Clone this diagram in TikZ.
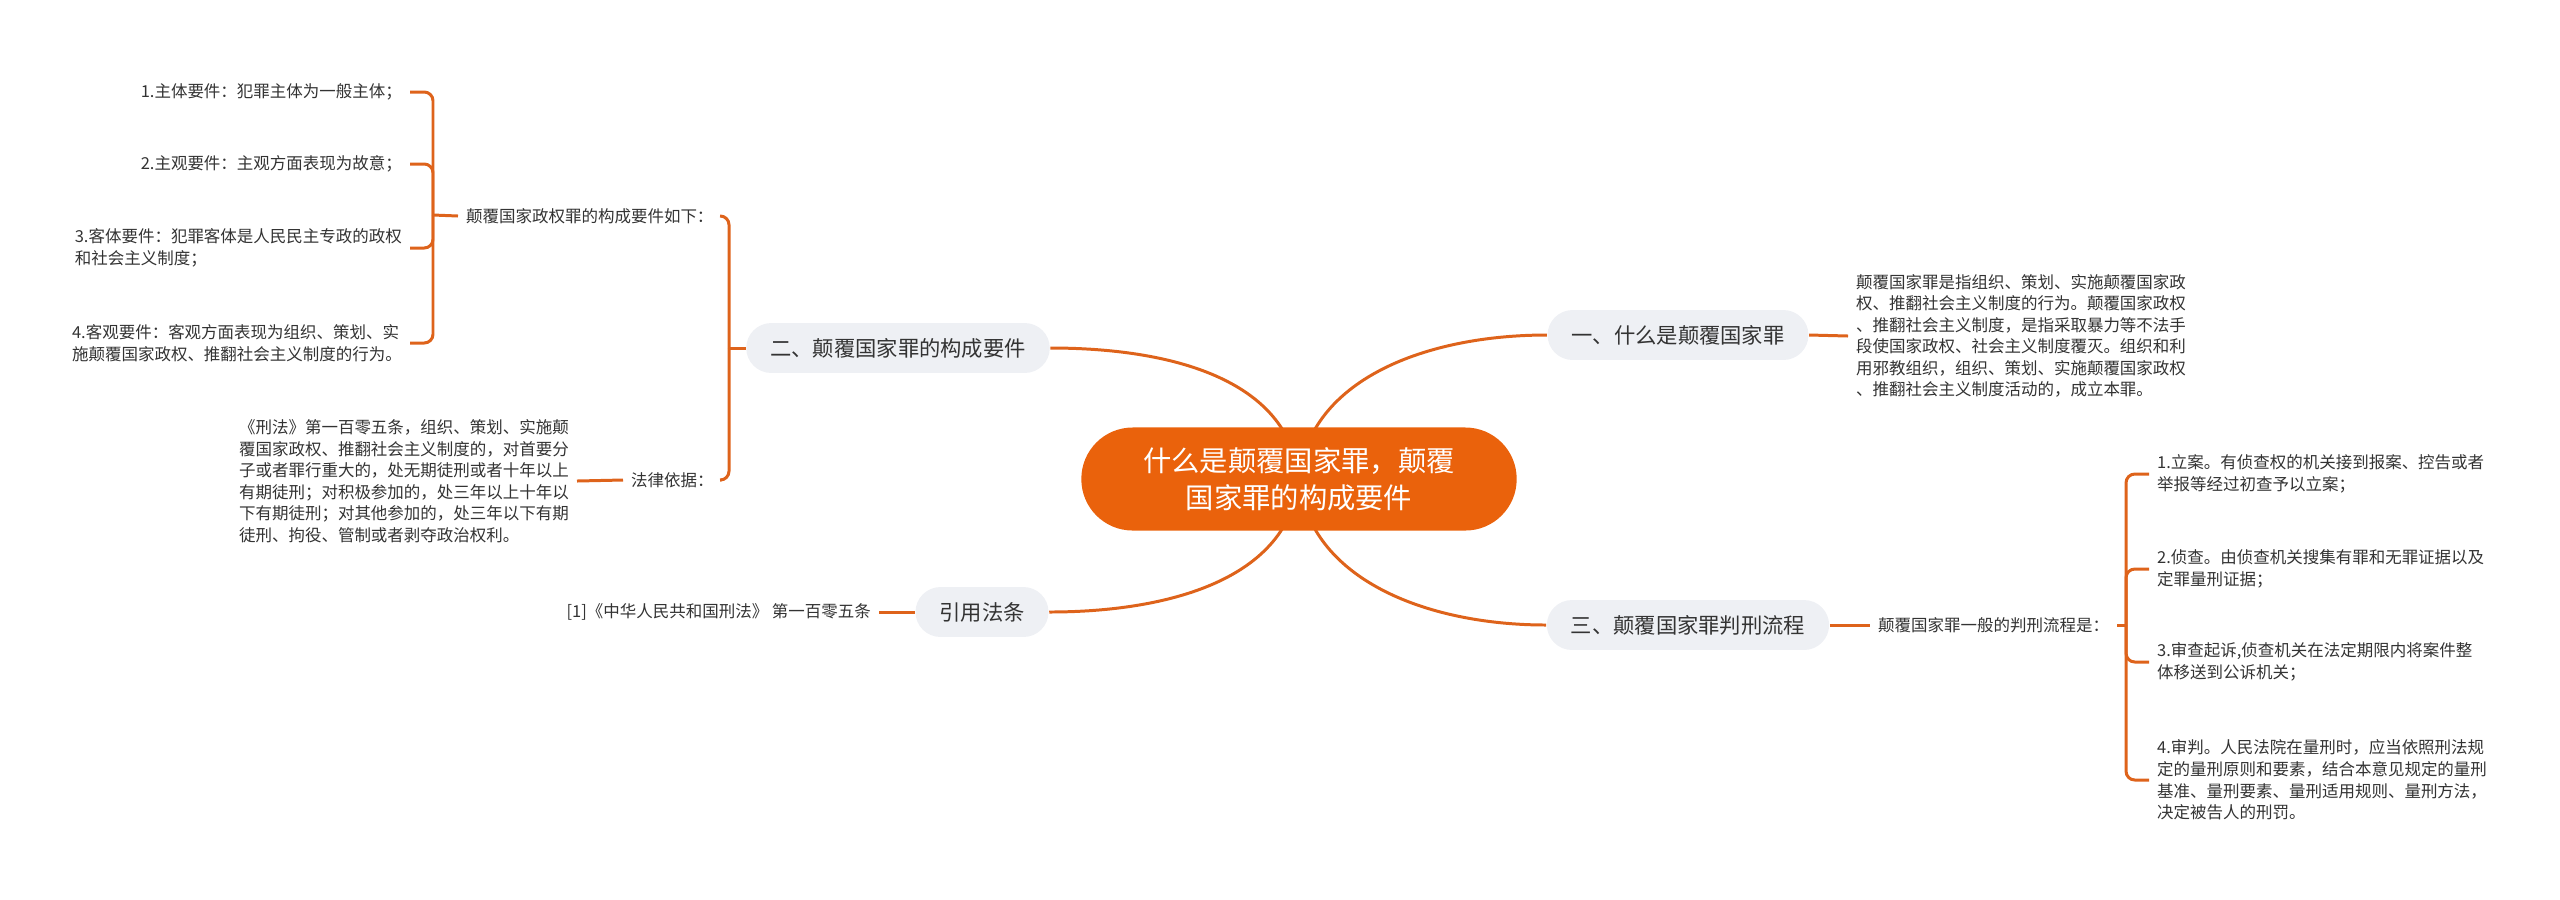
\documentclass[tikz,border=0pt]{standalone}
\usepackage{fontspec}
\setmainfont{Noto Sans CJK SC}
\usepackage{xcolor}
\usetikzlibrary{backgrounds}

\definecolor{branch}{RGB}{222,99,27}
\definecolor{rootfill}{RGB}{234,98,12}
\definecolor{topicfill}{RGB}{238,240,244}
\definecolor{txt}{RGB}{51,51,51}

\tikzset{
    root/.style={fill=rootfill, text=white, rounded corners=14.6pt, minimum width=123.8pt,
        minimum height=29.3pt, align=center, font=\fontsize{8.05pt}{10.5pt}\selectfont},
    topic/.style={fill=topicfill, text=txt, rounded corners=7.1pt, minimum height=14.2pt,
        inner xsep=6.8pt, inner ysep=0pt, font=\fontsize{6.06pt}{7.5pt}\selectfont},
    leaf/.style={text=txt, inner sep=0pt, outer xsep=2.3pt, align=left,
        font=\fontsize{4.69pt}{6.12pt}\selectfont},
    branchline/.style={draw=branch, line width=0.85pt},
    bracket/.style={draw=branch, line width=0.85pt, rounded corners=2.5pt}
}

\begin{document}
\begin{tikzpicture}[x={(0.01cm,0)}, y={(0,-0.01cm)}]
    \useasboundingbox (0,0) rectangle (2560,899);

    \node[root] (root) at (1299,479) {什么是颠覆国家罪，颠覆\\国家罪的构成要件};

    \node[topic] (one) at (1678,335) {一、什么是颠覆国家罪};
    \node[topic] (two) at (898,348) {二、颠覆国家罪的构成要件};
    \node[topic] (three) at (1688,625) {三、颠覆国家罪判刑流程};
    \node[topic] (cite) at (982,612) {引用法条};

    % one
    \node[leaf, anchor=west] (onedesc) at (1848,336) {颠覆国家罪是指组织、策划、实施颠覆国家政\\权、推翻社会主义制度的行为。颠覆国家政权\\、推翻社会主义制度，是指采取暴力等不法手\\段使国家政权、社会主义制度覆灭。组织和利\\用邪教组织，组织、策划、实施颠覆国家政权\\、推翻社会主义制度活动的，成立本罪。};

    % two
    \node[leaf, anchor=west] (kp) at (458,216) {颠覆国家政权罪的构成要件如下：};
    \node[leaf, anchor=east] (k1) at (410,92) {1.主体要件：犯罪主体为一般主体；};
    \node[leaf, anchor=east] (k2) at (410,164) {2.主观要件：主观方面表现为故意；};
    \node[leaf, anchor=east] (k3) at (410,248) {3.客体要件：犯罪客体是人民民主专政的政权\\和社会主义制度；};
    \node[leaf, anchor=east] (k4) at (410,343) {4.客观要件：客观方面表现为组织、策划、实\\施颠覆国家政权、推翻社会主义制度的行为。};
    \node[leaf, anchor=west] (law) at (623,480) {法律依据：};
    \node[leaf, anchor=east] (lawtext) at (577,481) {《刑法》第一百零五条，组织、策划、实施颠\\覆国家政权、推翻社会主义制度的，对首要分\\子或者罪行重大的，处无期徒刑或者十年以上\\有期徒刑；对积极参加的，处三年以上十年以\\下有期徒刑；对其他参加的，处三年以下有期\\徒刑、拘役、管制或者剥夺政治权利。};

    % three
    \node[leaf, anchor=west] (rp) at (1870,625) {颠覆国家罪一般的判刑流程是：};
    \node[leaf, anchor=west] (r1) at (2149,474) {1.立案。有侦查权的机关接到报案、控告或者\\举报等经过初查予以立案；};
    \node[leaf, anchor=west] (r2) at (2149,569) {2.侦查。由侦查机关搜集有罪和无罪证据以及\\定罪量刑证据；};
    \node[leaf, anchor=west] (r3) at (2149,662) {3.审查起诉,侦查机关在法定期限内将案件整\\体移送到公诉机关；};
    \node[leaf, anchor=west] (r4) at (2149,780) {4.审判。人民法院在量刑时，应当依照刑法规\\定的量刑原则和要素，结合本意见规定的量刑\\基准、量刑要素、量刑适用规则、量刑方法，\\决定被告人的刑罚。};

    % cite
    \node[leaf, anchor=east] (citetext) at (879,612) {[1]《中华人民共和国刑法》 第一百零五条};

    \coordinate (tj) at (729,348);
    \coordinate (kj) at (433,215);
    \coordinate (rj) at (2126,625);

    \begin{scope}[on background layer]
        \draw[branchline] (root.center) .. controls +(10,-100) and +(-120,0) .. (one.west);
        \draw[branchline] (root.center) .. controls +(-10,-100) and +(120,0) .. (two.east);
        \draw[branchline] (root.center) .. controls +(10,100) and +(-120,0) .. (three.west);
        \draw[branchline] (root.center) .. controls +(-10,100) and +(120,0) .. (cite.east);
    \end{scope}

    \draw[branchline] (one.east) -- (onedesc.west);

    \draw[branchline] (two.west) -- (tj);
    \draw[bracket] (tj) |- (kp.east);
    \draw[bracket] (tj) |- (law.east);
    \draw[branchline] (kp.west) -- (kj);
    \foreach \i in {1,...,4}
        \draw[bracket] (kj) |- (k\i.east);
    \draw[branchline] (lawtext.east) -- (law.west);

    \draw[branchline] (three.east) -- (rp.west);
    \draw[branchline] (rp.east) -- (rj);
    \foreach \i in {1,...,4}
        \draw[bracket] (rj) |- (r\i.west);

    \draw[branchline] (citetext.east) -- (cite.west);

\end{tikzpicture}
\end{document}
